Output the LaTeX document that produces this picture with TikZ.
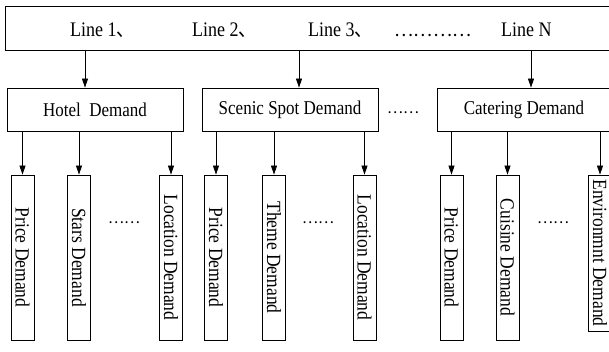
\documentclass[tikz,border=0pt]{standalone}
\usepackage{graphicx}
\usepackage{fontspec}
\setmainfont{Liberation Serif}
\newfontfamily\cjkfont{Noto Sans CJK SC}
\usetikzlibrary{arrows.meta}
% slightly tall lettering
\newcommand{\tall}[1]{\scalebox{1}[1.15]{#1}}
\newcommand{\updown}[1]{\rotatebox{-90}{\tall{#1}}}
\newcommand{\dun}{{\cjkfont 、}}
\tikzset{
  frame/.style={draw, line width=0.8pt, inner sep=0pt},
  catbox/.style={frame, minimum height=43pt, font=\fontsize{17}{17}\selectfont},
  leaf/.style={frame, minimum width=23pt, minimum height=165pt, font=\fontsize{17.5}{17.5}\selectfont},
  linelabel/.style={anchor=base west, inner sep=0pt, font=\fontsize{18}{18}\selectfont},
  gap/.style={inner sep=0pt, font=\cjkfont\fontsize{15}{15}\selectfont},
  arr/.style={line width=0.8pt, -{Triangle[length=9pt,width=6pt]}}
}
\begin{document}
\begin{tikzpicture}[x=1pt,y=-1pt]
\useasboundingbox (0,0) rectangle (609,352);
\fill[white] (0,0) rectangle (609,352);

% routes
\node[frame, minimum width=607pt, minimum height=44pt] (routes) at (308.5,28) {};
\node[linelabel] (l1) at (70,37) {\tall{Line 1\dun}};
\node[linelabel] (l2) at (192,37) {\tall{Line 2\dun}};
\node[linelabel] (l3) at (308,37) {\tall{Line 3\dun}};
\node[gap, font=\cjkfont\fontsize{18}{18}\selectfont] (lgap) at (433,35) {…………};
\node[linelabel] (ln) at (501,37) {\tall{Line N}};

% demand categories
\node[catbox, minimum width=176pt] (hotel) at (95,109.5) {\tall{Hotel\ \ Demand}};
\node[catbox, minimum width=176pt] (scenic) at (290,109.5) {\tall{Scenic Spot Demand}};
\node[catbox, minimum width=174pt] (cater) at (524,109.5) {\tall{Catering Demand}};
\node[gap] (cgap) at (403,113) {……};

\draw[arr] ([xshift=-10pt]hotel.north |- routes.south) -- ([xshift=-10pt]hotel.north);
\draw[arr] ([xshift=9pt]scenic.north |- routes.south) -- ([xshift=9pt]scenic.north);
\draw[arr] ([xshift=7pt]cater.north |- routes.south) -- ([xshift=7pt]cater.north);

% hotel items
\node[leaf] (h1) at (22.5,257.5) {\updown{Price Demand}};
\node[leaf] (h2) at (79,257.5) {\updown{Stars Demand}};
\node[leaf] (h3) at (171,257.5) {\updown{Location Demand}};
\node[gap] (hgap) at (124,223) {……};

% scenic spot items
\node[leaf] (s1) at (216,257.5) {\updown{Price Demand}};
\node[leaf] (s2) at (274,257.5) {\updown{Theme Demand}};
\node[leaf] (s3) at (364.5,257.5) {\updown{Location Demand}};
\node[gap] (sgap) at (318,223) {……};

% catering items
\node[leaf] (c1) at (451.5,257.5) {\updown{Price Demand}};
\node[leaf] (c2) at (507.5,257.5) {\updown{Cuisine Demand}};
\node[leaf, minimum height=156pt] (c3) at (600,253) {\updown{Environmnt Demand}};
\node[gap] (cgap2) at (553,223) {……};

\foreach \p/\c in {hotel/h1, hotel/h2, hotel/h3, scenic/s1, scenic/s2, scenic/s3, cater/c1, cater/c2, cater/c3}
  \draw[arr] (\p.south -| \c.north) -- (\c.north);
\end{tikzpicture}
\end{document}
